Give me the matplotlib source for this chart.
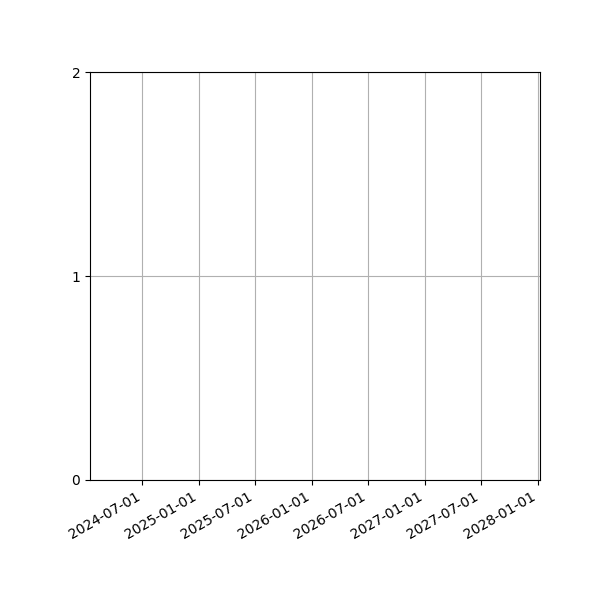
import datetime as dt

import matplotlib
matplotlib.use("Agg")
import matplotlib.dates as mdates
from matplotlib import pyplot as plt

# empty series, the chart only shows the axes frame
dates = []
values = []

x_range = [dt.datetime(2024, 1, 14), dt.datetime(2028, 1, 8)]
y_range = [0, 2]
y_ticks = [0, 1, 2]

fig, ax = plt.subplots(figsize=(6, 6), dpi=100)
ax.plot(dates, values)

ax.set_xlim(x_range)
ax.set_ylim(y_range)
ax.set_yticks(y_ticks)

ax.xaxis.set_major_locator(mdates.MonthLocator(bymonth=[1, 7]))
ax.xaxis.set_major_formatter(mdates.DateFormatter("%Y-%m-%d"))
ax.grid(True)

fig.autofmt_xdate()
fig.subplots_adjust(left=0.15)

fig.savefig("out.png")
